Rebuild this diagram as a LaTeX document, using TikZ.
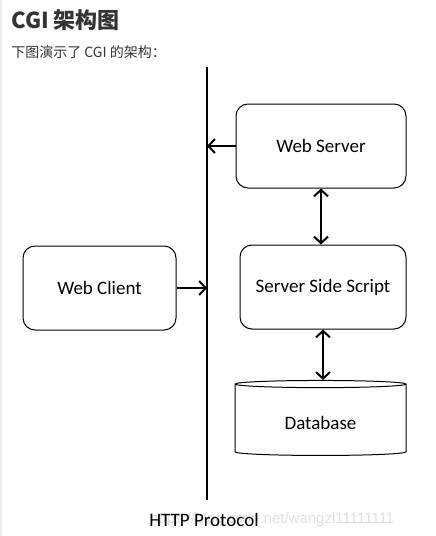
\documentclass[tikz,border=0pt]{standalone}
\usepackage{fontspec}
\setmainfont{Carlito}
\newfontfamily\cjk{Noto Sans CJK SC}
\newfontfamily\markfont{Liberation Sans}
\usetikzlibrary{arrows.meta,positioning,shapes.geometric}

\begin{document}
\begin{tikzpicture}[x=1pt,y=-1pt,>={Straight Barb[length=6.5pt,width=14pt]},semithick]
\tikzstyle{block}=[draw=black,line width=1pt,rounded corners=12pt,minimum height=84pt,font=\fontsize{19}{22}\selectfont]
\tikzstyle{db}=[cylinder,shape border rotate=90,draw=black,line width=1pt,aspect=0.1,minimum width=171pt,minimum height=75pt,inner sep=0pt,font=\fontsize{19}{22}\selectfont]
\tikzstyle{link}=[->,line width=2pt]
\useasboundingbox (0,0) rectangle (436,536);
\draw[gray!15,line width=1.5pt] (0.75,0) -- (0.75,536);

% heading
\node[anchor=base west,inner sep=0pt,text=black!80,font=\cjk\bfseries\fontsize{22}{26}\selectfont] (title) at (11,28) {CGI 架构图};
\node[anchor=base west,inner sep=0pt,text=black!80,font=\cjk\fontsize{14}{17}\selectfont] (intro) at (11,57) {下图演示了 CGI 的架构：};

% HTTP line
\coordinate (top) at (207,67);
\coordinate (bottom) at (207,500);
\draw[line width=1.6pt] (top) -- (bottom);
\node[anchor=west,inner sep=0pt,text=gray!25,font=\markfont\fontsize{15}{18}\selectfont] (mark) at (150,520) {https://blog.csdn.net/wangzi11111111};
\node[font=\fontsize{19}{22}\selectfont] (http) at (204,520) {HTTP Protocol};

\node[block,minimum width=170pt] (server) at (321,146) {Web Server};
\node[block,minimum width=153pt] (client) at (99.5,288) {Web Client};
\node[block,minimum width=166pt] (script) at (323,287) {Server Side Script};
\node[db,text height=22pt,text depth=4pt] (base) at (320.5,420) {Database};

\draw[link] (server.west) -- (server.west -| top);
\draw[link] (client.east) -- (client.east -| top);
\draw[link,<->] (server.south) -- (server.south |- script.north);
\draw[link,<->] (script.south) -- (script.south |- base.north);
\end{tikzpicture}
\end{document}
